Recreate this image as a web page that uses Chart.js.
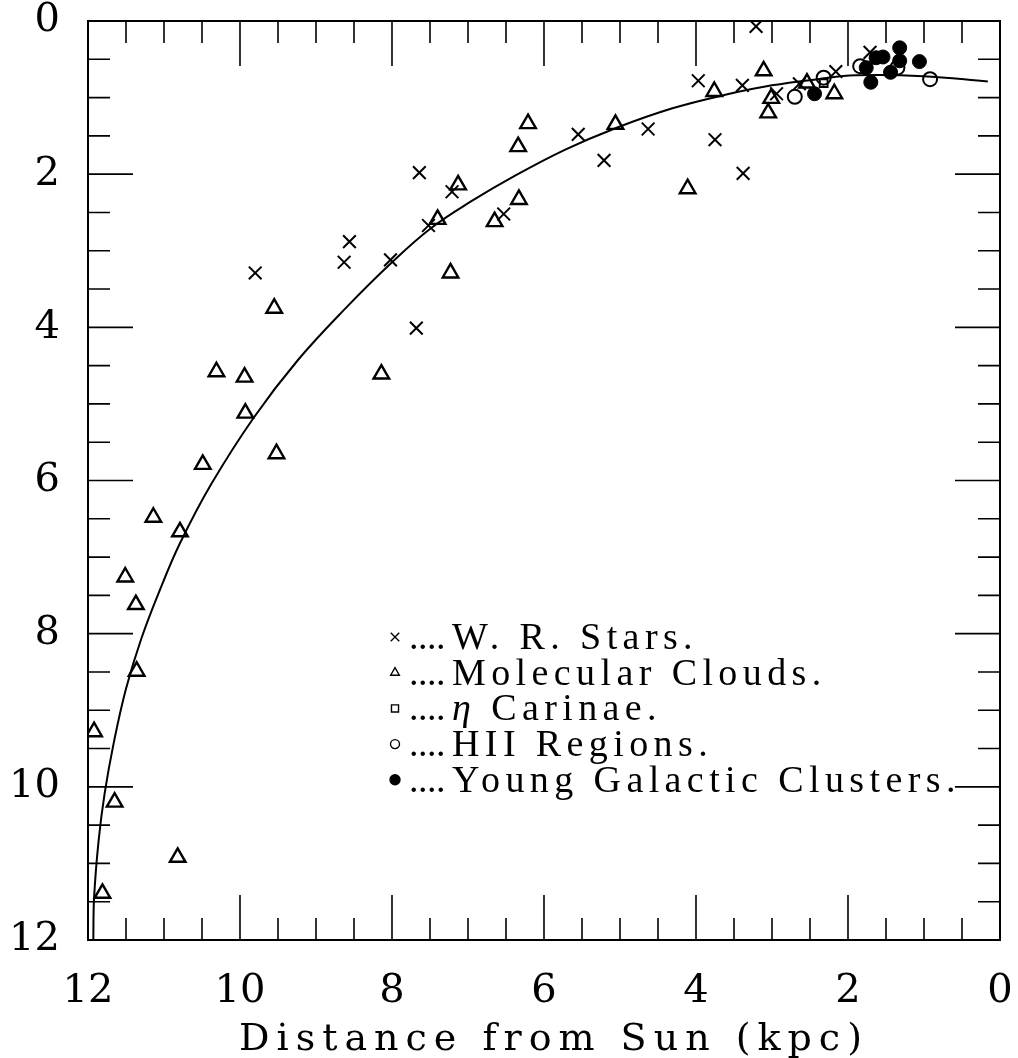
<!DOCTYPE html>
<html>
<head>
<meta charset="utf-8">
<script src="https://cdn.jsdelivr.net/npm/chart.js@4.4.1/dist/chart.umd.min.js"></script>
<style>
  html, body { margin: 0; background: #fff; }
  #wrap { width: 1018px; height: 1058px; }
</style>
</head>
<body>
<div id="wrap"><canvas id="chart"></canvas></div>
<script>
/* DATA (kpc) */
const xTicks = [0, 2, 4, 6, 8, 10, 12];
const yTicks = [0, 2, 4, 6, 8, 10, 12];

const wrX = [3.21, 9.80, 5.55, 4.63, 5.21, 7.64, 7.21, 6.53, 7.52, 8.56, 8.63, 8.02, 7.68, 3.97, 3.39, 2.94, 2.64, 2.16, 1.71, 3.75, 3.38];
const wrY = [0.07, 3.29, 1.48, 1.41, 1.82, 1.98, 2.23, 2.52, 2.67, 2.88, 3.15, 3.12, 4.01, 0.78, 0.84, 0.95, 0.82, 0.66, 0.41, 1.55, 1.99];

const molX = [9.55, 10.31, 9.94, 9.93, 9.52, 10.49, 11.14, 10.79, 11.51, 11.37, 11.36, 11.92, 11.65, 10.82, 11.81, 6.21, 6.34, 5.06, 7.13, 6.33, 6.65, 7.40, 7.23, 8.14, 3.76, 3.11, 3.01, 3.05, 2.54, 2.18, 4.11];
const molY = [3.75, 4.58, 4.65, 5.12, 5.65, 5.79, 6.48, 6.67, 7.26, 7.62, 8.49, 9.28, 10.20, 10.92, 11.39, 1.34, 1.64, 1.35, 2.14, 2.33, 2.62, 2.59, 3.29, 4.61, 0.92, 0.65, 1.01, 1.20, 0.81, 0.95, 2.19];

const etaX = [2.32];
const etaY = [0.81];

const hiiX = [2.70, 2.32, 1.84, 1.35, 0.92];
const hiiY = [0.99, 0.74, 0.59, 0.61, 0.76];

const ygcX = [2.44, 1.76, 1.63, 1.54, 1.70, 1.44, 1.32, 1.32, 1.06];
const ygcY = [0.95, 0.61, 0.48, 0.47, 0.80, 0.67, 0.52, 0.35, 0.53];

const curveX = [11.93, 11.92, 11.86, 11.78, 11.66, 11.50, 11.30, 11.05, 10.79, 10.38, 9.82, 9.24, 8.60, 8.01, 7.48, 6.95, 6.38, 5.72, 5.06, 4.31, 3.60, 3.00, 2.40, 1.90, 1.01, 0.16];
const curveY = [12.0, 11.45, 10.70, 10.08, 9.42, 8.72, 8.07, 7.42, 6.82, 6.05, 5.18, 4.43, 3.74, 3.16, 2.70, 2.35, 2.02, 1.68, 1.40, 1.14, 0.96, 0.84, 0.76, 0.71, 0.72, 0.79];

const legendLabels = ["W. R. Stars.", "Molecular Clouds.", "η Carinae.", "HII Regions.", "Young Galactic Clusters."];
const xTitle = "Distance from Sun (kpc)";

const toPts = (xs, ys) => xs.map((x, i) => ({ x, y: ys[i] }));

/* point styles, also used by the legend */
const series = [
  { x: wrX, y: wrY, style: "crossRot", r: 9, lr: 6, bw: 2, fill: "rgba(0,0,0,0)" },
  { x: molX, y: molY, style: "triangle", r: 9, lr: 5, bw: 2.4, fill: "rgba(0,0,0,0)" },
  { x: etaX, y: etaY, style: "rect", r: 5.5, lr: 5, bw: 2, fill: "rgba(0,0,0,0)" },
  { x: hiiX, y: hiiY, style: "circle", r: 7, lr: 4.5, bw: 2, fill: "rgba(0,0,0,0)" },
  { x: ygcX, y: ygcY, style: "circle", r: 7, lr: 5, bw: 1, fill: "#000" },
];

/* FRAME + INSIDE TICKS */
const framePlugin = {
  id: "frame",
  afterDatasetsDraw(chart) {
    const { ctx, chartArea: a, scales } = chart;
    const sx = scales.x, sy = scales.y;
    ctx.save();
    ctx.strokeStyle = "#000";
    ctx.lineWidth = 2;
    ctx.strokeRect(a.left, a.top, a.right - a.left, a.bottom - a.top);
    ctx.lineWidth = 1.6;
    ctx.beginPath();
    for (let v = 0.5; v < 12; v += 0.5) {
      const len = xTicks.includes(v) ? 45 : 22;
      const px = sx.getPixelForValue(v);
      const py = sy.getPixelForValue(v);
      ctx.moveTo(px, a.top); ctx.lineTo(px, a.top + len);
      ctx.moveTo(px, a.bottom); ctx.lineTo(px, a.bottom - len);
      ctx.moveTo(a.left, py); ctx.lineTo(a.left + len, py);
      ctx.moveTo(a.right, py); ctx.lineTo(a.right - len, py);
    }
    ctx.stroke();
    ctx.restore();
  },
};

/* LEGEND INSIDE PLOT */
const legendPlugin = {
  id: "innerLegend",
  afterDraw(chart) {
    const { ctx } = chart;
    const x0 = 395, y0 = 637, step = 35.7;
    ctx.save();
    legendLabels.forEach((label, i) => {
      const s = series[i];
      const y = y0 + i * step;
      ctx.fillStyle = s.fill;
      ctx.strokeStyle = "#000";
      ctx.lineWidth = 1.4;
      Chart.helpers.drawPoint(ctx, { pointStyle: s.style, radius: s.lr, rotation: 0, borderWidth: 1.4 }, x0, y);
      ctx.fillStyle = "#000";
      ctx.textBaseline = "alphabetic";
      ctx.letterSpacing = "0px";
      ctx.font = "38px 'Liberation Serif'";
      let tx = x0 + 14;
      for (let d = 0; d < 4; d++) {
        ctx.fillText(".", tx + d * 9, y + 12);
      }
      tx = x0 + 57;
      ctx.letterSpacing = "5.4px";
      let text = label;
      if (text.startsWith("η")) {
        ctx.font = "italic 38px 'Liberation Serif'";
        ctx.fillText("η", tx, y + 12);
        tx += ctx.measureText("η").width;
        text = text.slice(1);
        ctx.font = "38px 'Liberation Serif'";
      }
      ctx.fillText(text, tx, y + 12);
    });
    ctx.restore();
  },
};

/* X AXIS TITLE */
const titlePlugin = {
  id: "xTitle",
  afterDraw(chart) {
    const { ctx, chartArea: a } = chart;
    ctx.save();
    ctx.fillStyle = "#000";
    ctx.font = "38px 'DejaVu Serif'";
    ctx.letterSpacing = "7px";
    ctx.textAlign = "center";
    ctx.textBaseline = "alphabetic";
    ctx.fillText(xTitle, (a.left + a.right) / 2 + 10, 1050);
    ctx.restore();
  },
};

const tickFont = { family: "'DejaVu Serif'", size: 40, lineHeight: 1 };

new Chart(document.getElementById("chart"), {
  type: "scatter",
  data: {
    datasets: [
      {
        type: "line",
        data: toPts(curveX, curveY),
        borderColor: "#000",
        borderWidth: 2,
        pointRadius: 0,
        tension: 0.4,
        fill: false,
      },
      ...series.map((s) => ({
        data: toPts(s.x, s.y),
        pointStyle: s.style,
        pointRadius: s.r,
        pointBorderWidth: s.bw,
        borderColor: "#000",
        backgroundColor: s.fill,
      })),
    ],
  },
  options: {
    responsive: true,
    maintainAspectRatio: false,
    animation: false,
    devicePixelRatio: 1,
    layout: { padding: { top: 0, right: 18, left: 0, bottom: 0 } },
    plugins: { legend: { display: false }, tooltip: { enabled: false } },
    scales: {
      x: {
        type: "linear",
        min: 0,
        max: 12,
        reverse: true,
        afterBuildTicks: (s) => { s.ticks = xTicks.map((v) => ({ value: v })); },
        afterFit: (s) => { s.height = 118; },
        ticks: { color: "#000", font: tickFont, padding: 32, maxRotation: 0 },
        grid: { display: false, drawTicks: false },
        border: { display: false },
      },
      y: {
        type: "linear",
        min: 0,
        max: 12,
        reverse: true,
        afterBuildTicks: (s) => { s.ticks = yTicks.map((v) => ({ value: v })); },
        afterFit: (s) => { s.width = 88; s.paddingTop = 21; s.paddingBottom = 0; },
        ticks: { color: "#000", font: tickFont, padding: 28 },
        grid: { display: false, drawTicks: false },
        border: { display: false },
      },
    },
  },
  plugins: [framePlugin, legendPlugin, titlePlugin],
});
</script>
</body>
</html>
